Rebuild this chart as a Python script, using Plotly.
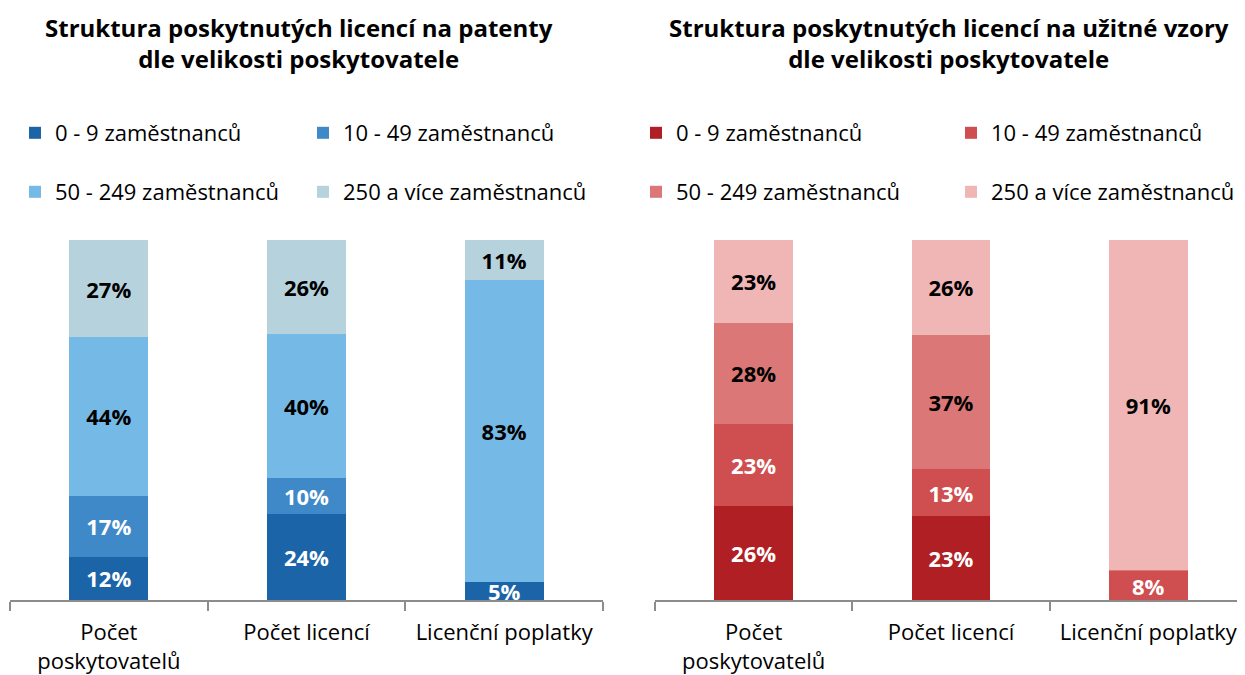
import plotly.graph_objects as go

categories = ["Počet<br>poskytovatelů", "Počet licencí", "Licenční poplatky"]
series_names = ["0 - 9 zaměstnanců", "10 - 49 zaměstnanců", "50 - 249 zaměstnanců", "250 a více zaměstnanců"]

patent_0_9 = [12, 24, 5]
patent_10_49 = [17, 10, 0]
patent_50_249 = [44, 40, 83]
patent_250 = [27, 26, 11]

uv_0_9 = [26, 23, 0]
uv_10_49 = [23, 13, 8]
uv_50_249 = [28, 37, 0.3]
uv_250 = [23, 26, 91]

title_left = "Struktura poskytnutých licencí na patenty<br>dle velikosti poskytovatele"
title_right = "Struktura poskytnutých licencí na užitné vzory<br>dle velikosti poskytovatele"

blue_colors = ["#1C64A8", "#3F89C9", "#75B9E6", "#B5D2DD"]
red_colors = ["#B01F24", "#CF4E4F", "#DB7776", "#F0B6B5"]
text_colors = ["white", "white", "black", "black"]

FONT = "Open Sans"
W, H = 1245, 675
OFF = 8  # page body margin offset

def px_x(p):
    return (p - OFF) / W

def px_y(p):
    return (H - (p - OFF)) / H

fig = go.Figure()

def add_group(series, colors, xaxis, yaxis, legends):
    for i, (name, vals) in enumerate(zip(series_names, series)):
        fig.add_trace(go.Bar(
            x=categories, y=vals, name=name,
            marker=dict(color=colors[i], line=dict(width=0)),
            text=[f"{v:.0f}%" if v >= 1 else "" for v in vals],
            textposition="inside", insidetextanchor="middle", textangle=0,
            textfont=dict(family=FONT, size=22, color=text_colors[i], weight="bold"),
            xaxis=xaxis, yaxis=yaxis, legend=legends[i], showlegend=True,
            hoverinfo="skip",
        ))

add_group([patent_0_9, patent_10_49, patent_50_249, patent_250], blue_colors, "x", "y",
          ["legend", "legend2", "legend3", "legend4"])
add_group([uv_0_9, uv_10_49, uv_50_249, uv_250], red_colors, "x2", "y2",
          ["legend5", "legend6", "legend7", "legend8"])

y_dom = [px_y(600), px_y(240)]
xd1 = [px_x(10), px_x(603)]
xd2 = [px_x(655), px_x(1247)]

axis_x = dict(showgrid=False, zeroline=False, showline=True, linecolor="#8C8C8C", linewidth=2,
              ticks="outside", tickson="boundaries", ticklen=9, tickwidth=2, tickcolor="#8C8C8C",
              ticklabelstandoff=12,
              tickfont=dict(family=FONT, size=22, color="black"), fixedrange=True)
axis_y = dict(visible=False, range=[0, 100], fixedrange=True)

leg_common = dict(orientation="h", xanchor="left", yanchor="middle", visible=True,
                  font=dict(family=FONT, size=22, color="black"), bgcolor="rgba(0,0,0,0)",
                  itemwidth=30)

# legend text positions on screen (x of text start, y of row centre)
legend_pos = {
    "legend": (55, 133), "legend2": (343, 133), "legend3": (55, 192), "legend4": (343, 192),
    "legend5": (676, 133), "legend6": (991, 133), "legend7": (676, 192), "legend8": (991, 192),
}
legends = {k: dict(x=(tx - 48) / W, y=px_y(ty), **leg_common) for k, (tx, ty) in legend_pos.items()}

fig.update_layout(
    width=W, height=H,
    margin=dict(l=0, r=0, t=0, b=0, autoexpand=False),
    paper_bgcolor="white", plot_bgcolor="white",
    showlegend=True,
    barmode="stack", barnorm="percent", bargap=0.6,
    uniformtext=dict(minsize=22, mode="show"),
    xaxis=dict(domain=xd1, anchor="y", **axis_x),
    xaxis2=dict(domain=xd2, anchor="y2", **axis_x),
    yaxis=dict(domain=y_dom, anchor="x", **axis_y),
    yaxis2=dict(domain=y_dom, anchor="x2", **axis_y),
    annotations=[
        dict(text=f"<b>{title_left}</b>", x=px_x(299), y=px_y(43),
             xref="paper", yref="paper", xanchor="center", yanchor="middle", showarrow=False,
             font=dict(family=FONT, size=24, color="black")),
        dict(text=f"<b>{title_right}</b>", x=px_x(949), y=px_y(43),
             xref="paper", yref="paper", xanchor="center", yanchor="middle", showarrow=False,
             font=dict(family=FONT, size=24, color="black")),
    ],
    **legends,
)

fig.write_html("out.html")
